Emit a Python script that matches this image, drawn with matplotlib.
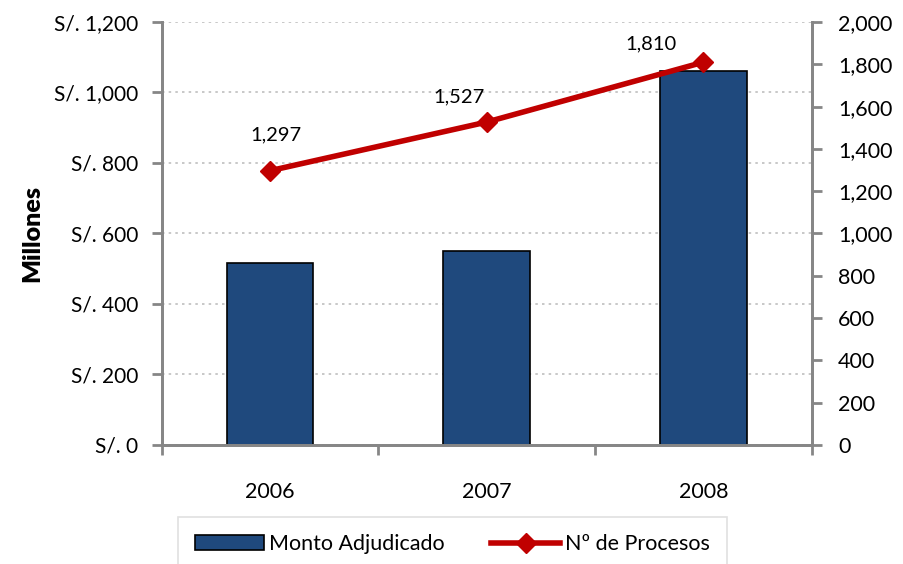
import matplotlib.pyplot as plt
import numpy as np
from matplotlib.ticker import FuncFormatter

plt.rcParams['font.family'] = ['Lato', 'DejaVu Sans']

years = ["2006", "2007", "2008"]
monto = [517, 551, 1062]          # millones de soles
procesos = [1297, 1527, 1810]     # numero de procesos

bar_color = "#1F497D"
line_color = "#C00000"
axis_gray = "#868686"

fig = plt.figure(figsize=(9.04, 5.64), dpi=100)
ax = fig.add_axes([0.179, 0.211, 0.719, 0.75])
ax2 = ax.twinx()

x = np.arange(len(years))
ax.bar(x, monto, width=0.4, color=bar_color, edgecolor="black", linewidth=1.2,
       label="Monto Adjudicado", zorder=2)
ax2.plot(x, procesos, color=line_color, linewidth=4, marker="D", markersize=10,
         label="Nº de Procesos", zorder=3)

# data labels for the line
offsets = [(4, 20), (-20, 12), (-38, 7)]
for xi, v, off in zip(x, procesos, offsets):
    ax2.annotate(f"{v:,}", (xi, v), xytext=off, textcoords="offset points",
                 ha="center", va="bottom", fontsize=14.5)

ax.set_xlim(-0.5, 2.5)
ax.set_ylim(0, 1200)
ax2.set_ylim(0, 2000)
ax.set_yticks(np.arange(0, 1201, 200))
ax2.set_yticks(np.arange(0, 2001, 200))
ax.yaxis.set_major_formatter(FuncFormatter(lambda v, p: f"S/. {int(v):,}"))
ax2.yaxis.set_major_formatter(FuncFormatter(lambda v, p: f"{int(v):,}"))

# category ticks at boundaries, labels centred
ax.set_xticks([-0.5, 0.5, 1.5, 2.5])
ax.set_xticklabels([])
ax.set_xticks(x, minor=True)
ax.set_xticklabels(years, minor=True, fontsize=15.5)
ax.tick_params(axis="x", which="minor", length=0, pad=27)
ax.tick_params(axis="x", which="major", length=7, width=2, color=axis_gray)

ax.tick_params(axis="y", labelsize=15, length=7, width=2, color=axis_gray, pad=10)
ax2.tick_params(axis="y", labelsize=15.5, length=7, width=2, color=axis_gray, pad=12)

ax.grid(axis="y", linestyle=(0, (1.5, 2.5)), color="#BFBFBF", linewidth=1.2, zorder=0)
ax.set_axisbelow(True)

for a in (ax, ax2):
    a.spines["top"].set_visible(False)
    for s in ("left", "right", "bottom"):
        a.spines[s].set_color(axis_gray)
        a.spines[s].set_linewidth(2)

ax.set_ylabel("Millones", fontsize=18, fontweight="heavy", labelpad=8)

h1, l1 = ax.get_legend_handles_labels()
h2, l2 = ax2.get_legend_handles_labels()
leg = fig.legend(h1 + h2, l1 + l2, loc="upper left", bbox_to_anchor=(0.197, 0.083),
                 ncol=2, fontsize=15.5, frameon=True, fancybox=False,
                 handlelength=3.2, columnspacing=2.2, borderpad=0.8,
                 handletextpad=0.2, borderaxespad=0)
leg.get_frame().set_edgecolor("#D9D9D9")
leg.get_frame().set_linewidth(1.2)

fig.savefig("out.png", dpi=100)
